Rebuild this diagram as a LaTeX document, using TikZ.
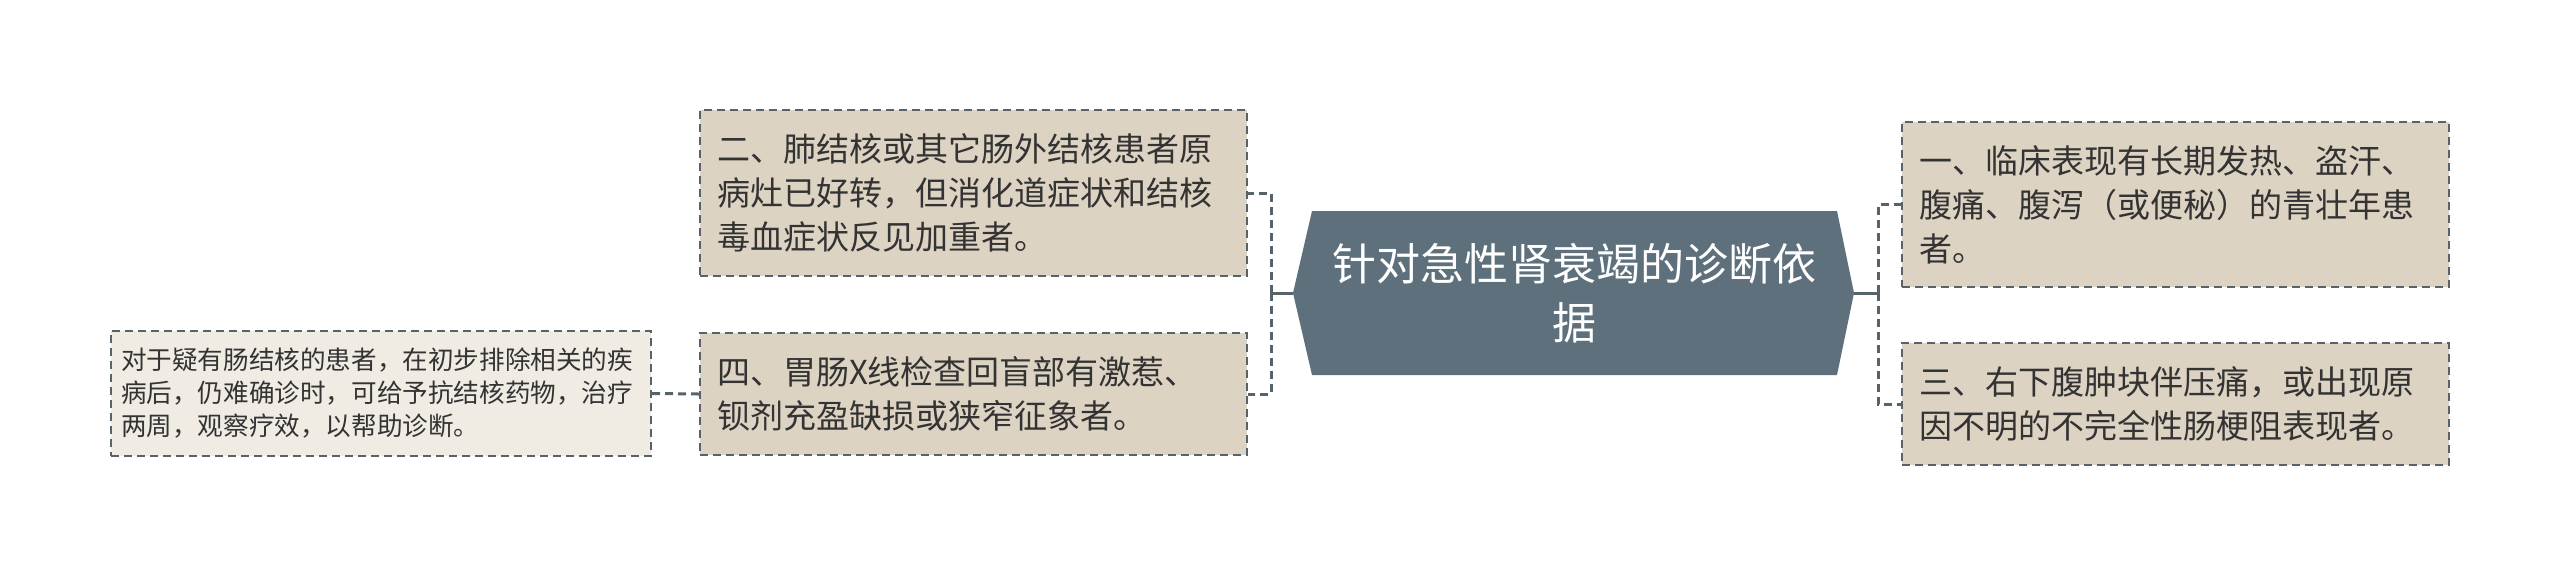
\documentclass[tikz,border=0pt]{standalone}
\usepackage{fontspec}
\setmainfont{Noto Sans CJK SC}
\definecolor{hexfill}{HTML}{5D707C}
\definecolor{boxfill}{HTML}{DDD3C3}
\definecolor{smallfill}{HTML}{F0ECE4}
\definecolor{bordc}{HTML}{56636B}
\definecolor{txt}{HTML}{333333}
\begin{document}
\begin{tikzpicture}[x=0.5pt,y=-0.5pt,
  box/.style={draw=bordc, line width=1pt, dash pattern=on 4pt off 2.5pt, fill=boxfill,
    align=left, inner xsep=8.5pt, inner ysep=0pt, text width=256.5pt, text=txt,
    font=\fontsize{16.5}{22}\selectfont},
  smallbox/.style={box, fill=smallfill, inner xsep=5pt, text width=260pt,
    font=\fontsize{12.8}{16.5}\selectfont},
  centertext/.style={align=center, text=white, inner sep=0pt,
    font=\fontsize{22}{29.5}\selectfont},
  conn/.style={draw=bordc, line width=1.5pt},
  dconn/.style={conn, dash pattern=on 4pt off 2.5pt}]
\useasboundingbox (0,0) rectangle (2560,575);
\fill[white] (0,0) rectangle (2560,575);
% central hexagon
\coordinate (hL) at (1293,293);
\coordinate (hTL) at (1312,211);
\coordinate (hTR) at (1837,211);
\coordinate (hR) at (1854,293);
\coordinate (hBR) at (1837,375);
\coordinate (hBL) at (1312,375);
\fill[hexfill] (hL) -- (hTL) -- (hTR) -- (hR) -- (hBR) -- (hBL) -- cycle;
\node[centertext] (c) at (1574,293) {针对急性肾衰竭的诊断依\\据};
% junctions
\coordinate (lj) at (1271,293);
\coordinate (rj) at (1878,293);
% boxes
\node[box, minimum height=83pt] (b2) at (973.5,193) {二、肺结核或其它肠外结核患者原\\病灶已好转，但消化道症状和结核\\毒血症状反见加重者。};
\node[box, minimum height=61pt] (b4) at (973.5,394) {四、胃肠X线检查回盲部有激惹、\\钡剂充盈缺损或狭窄征象者。};
\node[box, minimum height=82.5pt] (b1) at (2175.5,204.5) {一、临床表现有长期发热、盗汗、\\腹痛、腹泻（或便秘）的青壮年患\\者。};
\node[box, minimum height=61pt] (b3) at (2175.5,404) {三、右下腹肿块伴压痛，或出现原\\因不明的不完全性肠梗阻表现者。};
\node[smallbox, minimum height=62.5pt] (b5) at (381,393.5) {对于疑有肠结核的患者，在初步排除相关的疾\\病后，仍难确诊时，可给予抗结核药物，治疗\\两周，观察疗效，以帮助诊断。};
% connectors
\draw[conn] (hL) -- (lj);
\draw[conn] (hR) -- (rj);
\draw[dconn] (lj) |- (b2.east);
\draw[dconn] (lj) |- (b4.east);
\draw[dconn] (rj) |- (b1.west);
\draw[dconn] (rj) |- (b3.west);
\draw[dconn] (b4.west) -- (b5.east);
\end{tikzpicture}
\end{document}
